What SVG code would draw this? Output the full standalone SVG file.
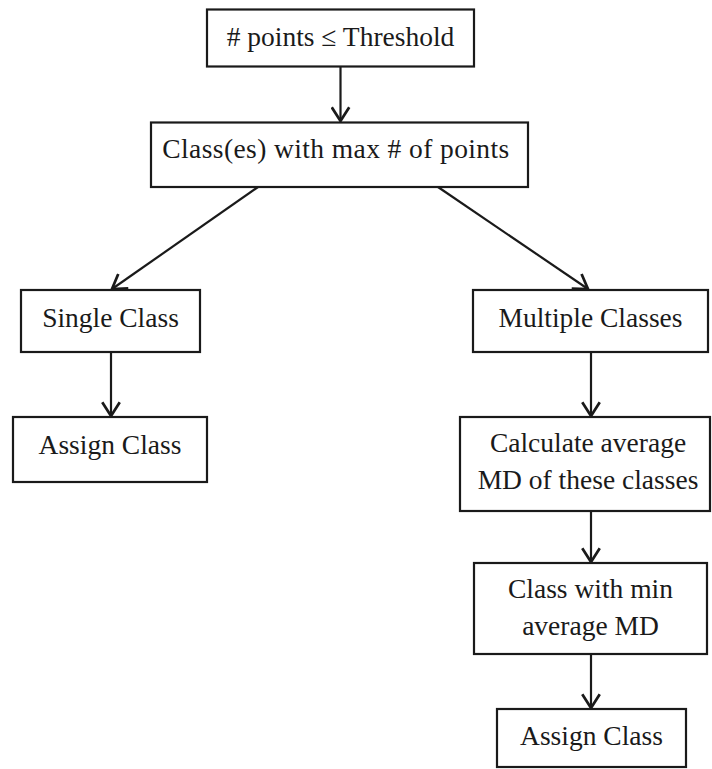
<svg xmlns="http://www.w3.org/2000/svg" width="712" height="769" viewBox="0 0 712 769">
<style>
.box{fill:#fff;stroke:#1a1a1a;stroke-width:2.2}
.t{font-family:"Liberation Serif","Times New Roman",serif;font-size:27.5px;fill:#1a1a1a;text-anchor:middle}
.c{stroke:#1a1a1a;stroke-width:2.2;fill:none}
</style>
<defs>
<marker id="ah" markerUnits="userSpaceOnUse" markerWidth="20" markerHeight="20" refX="13" refY="8" orient="auto" viewBox="0 0 16 16">
<path d="M2,1 L13,8 L2,15" fill="none" stroke="#1a1a1a" stroke-width="2.2"/>
</marker>
</defs>
<rect width="712" height="769" fill="#fff"/>
<g id="connectors">
<line class="c" x1="340.5" y1="67" x2="340.5" y2="121" marker-end="url(#ah)"/>
<line class="c" x1="258" y1="187" x2="112" y2="289" marker-end="url(#ah)"/>
<line class="c" x1="438" y1="187" x2="588" y2="289" marker-end="url(#ah)"/>
<line class="c" x1="111" y1="352" x2="111" y2="416" marker-end="url(#ah)"/>
<line class="c" x1="591" y1="352" x2="591" y2="416" marker-end="url(#ah)"/>
<line class="c" x1="591" y1="511" x2="591" y2="562" marker-end="url(#ah)"/>
<line class="c" x1="591" y1="654" x2="591" y2="708" marker-end="url(#ah)"/>
</g>
<g id="n1"><rect class="box" x="207" y="9.5" width="267" height="57"/><text class="t" x="340.5" y="46">#  points ≤ Threshold</text></g>
<g id="n2"><rect class="box" x="151" y="122.5" width="377" height="64.5"/><text class="t" x="336" y="158" letter-spacing="0.4">Class(es) with max # of points</text></g>
<g id="n3"><rect class="box" x="21" y="290" width="179" height="62"/><text class="t" x="110.5" y="327">Single Class</text></g>
<g id="n4"><rect class="box" x="473" y="290" width="235" height="62"/><text class="t" x="590.5" y="327">Multiple Classes</text></g>
<g id="n5"><rect class="box" x="13" y="417" width="194" height="65"/><text class="t" x="110" y="454">Assign Class</text></g>
<g id="n6"><rect class="box" x="460" y="417" width="250" height="94"/><text class="t" x="588" y="452">Calculate average</text><text class="t" x="588" y="489">MD of these classes</text></g>
<g id="n7"><rect class="box" x="474" y="563" width="233" height="91"/><text class="t" x="590.5" y="598">Class with min</text><text class="t" x="590.5" y="635">average MD</text></g>
<g id="n8"><rect class="box" x="497" y="709" width="189" height="58"/><text class="t" x="591.5" y="745">Assign Class</text></g>
</svg>
